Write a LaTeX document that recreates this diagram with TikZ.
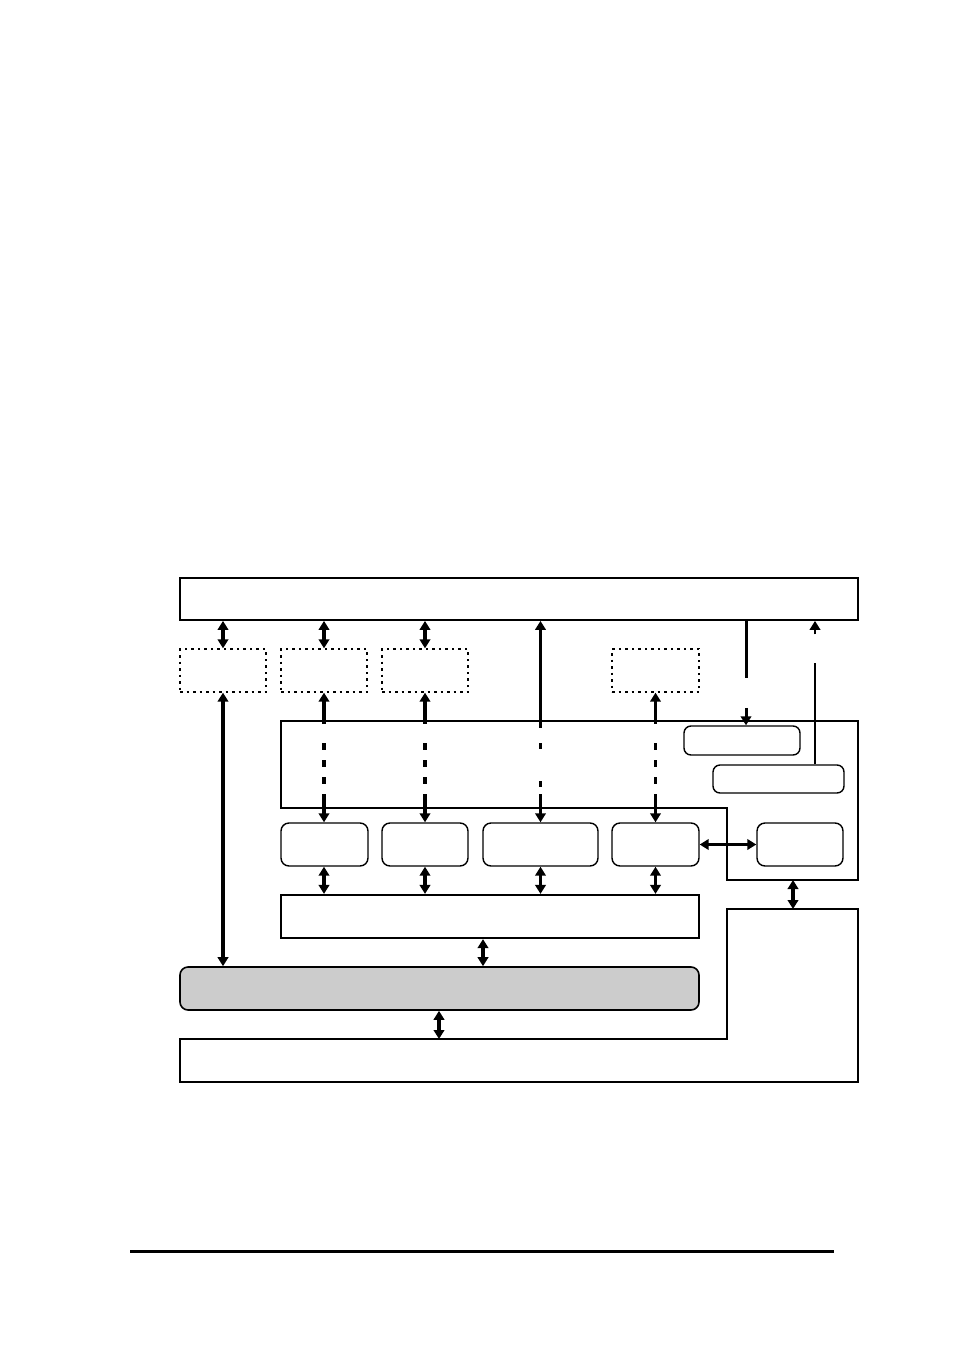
\documentclass[tikz,border=0pt]{standalone}
\usetikzlibrary{arrows.meta,calc}
\begin{document}
\begin{tikzpicture}[x=1pt,y=-1pt,
  box/.style={draw,line width=1.8pt,minimum height=43pt,inner sep=0pt},
  dotbox/.style={draw,line width=1.3pt,dash pattern=on 2.5pt off 4pt,minimum height=43pt,inner sep=0pt},
  rbox/.style={draw,line width=1.4pt,rounded corners=8pt,minimum height=43pt,inner sep=0pt},
  sbox/.style={draw,line width=1.4pt,rounded corners=7pt,inner sep=0pt},
  conn/.style={line width=3.6pt,{Triangle[width=10.5pt,length=9pt]}-{Triangle[width=10.5pt,length=9pt]}},
  oneway/.style={line width=3pt,-{Triangle[width=10.5pt,length=9pt]}}]
\useasboundingbox (0,0) rectangle (954,1351);
% top box
\node[box,minimum width=678pt,minimum height=42pt] (T) at (519,599) {};
% dotted boxes
\node[dotbox,minimum width=86pt] (D1) at (223,670.5) {};
\node[dotbox,minimum width=86pt] (D2) at (324,670.5) {};
\node[dotbox,minimum width=86pt] (D3) at (425,670.5) {};
\node[dotbox,minimum width=87pt] (D4) at (655.5,670.5) {};
% big region
\coordinate (R1) at (281,721);
\coordinate (R2) at (858,721);
\coordinate (R3) at (858,880);
\coordinate (R4) at (727,880);
\coordinate (R5) at (727,808);
\coordinate (R6) at (281,808);
\draw[line width=1.4pt] (R1) -- (R2) -- (R3) -- (R4) -- (R5) -- (R6) -- cycle;
\node[sbox,minimum width=116pt,minimum height=29pt] (A) at (742,740.5) {};
\node[sbox,minimum width=131pt,minimum height=28pt] (B) at (778.5,779) {};
% row of rounded boxes
\node[rbox,minimum width=87pt] (b1) at (324.5,844.5) {};
\node[rbox,minimum width=86pt] (b2) at (425,844.5) {};
\node[rbox,minimum width=115pt] (b3) at (540.5,844.5) {};
\node[rbox,minimum width=87pt] (b4) at (655.5,844.5) {};
\node[rbox,minimum width=86pt] (b5) at (800,844.5) {};
% middle box
\node[box,line width=2.2pt,minimum width=418pt] (M) at (490,916.5) {};
% grey box
\node[rbox,fill=gray!40,line width=1.6pt,minimum width=519pt] (G) at (439.5,988.5) {};
% L-shaped bottom box
\coordinate (L1) at (180,1039);
\coordinate (L2) at (727,1039);
\coordinate (L3) at (727,909);
\coordinate (L4) at (858,909);
\coordinate (L5) at (858,1082);
\coordinate (L6) at (180,1082);
\draw[line width=1.7pt] (L1) -- (L2) -- (L3) -- (L4) -- (L5) -- (L6) -- cycle;
% helper x positions
\coordinate (xA) at (746,0);
\coordinate (xB) at (815,0);
\coordinate (xR) at (793,0);
\coordinate (xM) at (483,0);
\coordinate (xG) at (439,0);
% connectors top <-> dotted
\draw[conn] (T.south -| D1.north) -- (D1.north);
\draw[conn] (T.south -| D2.north) -- (D2.north);
\draw[conn] (T.south -| D3.north) -- (D3.north);
% D1 <-> grey
\draw[conn] (D1.south) -- (D1.south |- G.north);
% dashed crossings
\draw[conn,dash pattern=on 23pt off 19pt on 7pt off 10pt on 7pt off 10pt on 7pt off 10pt on 40pt] (D2.south) -- (D2.south |- b1.north);
\draw[conn,dash pattern=on 23pt off 19pt on 7pt off 10pt on 7pt off 10pt on 7pt off 10pt on 40pt] (D3.south) -- (D3.south |- b2.north);
\draw[conn,dash pattern=on 23pt off 19pt on 7pt off 10pt on 7pt off 10pt on 7pt off 10pt on 40pt] (D4.south) -- (D4.south |- b4.north);
\draw[conn,dash pattern=on 99pt off 15pt on 6pt off 32pt on 6pt off 7pt on 60pt] (b3.north |- T.south) -- (b3.north);
% row <-> middle
\draw[conn] (D2.south |- b1.south) -- (D2.south |- M.north);
\draw[conn] (b2.south) -- (b2.south |- M.north);
\draw[conn] (b3.south) -- (b3.south |- M.north);
\draw[conn] (D4.south |- b4.south) -- (D4.south |- M.north);
% b4 <-> b5
\draw[conn] (b4.east) -- (b5.west);
% region <-> L box
\draw[conn] (xR |- R3) -- (xR |- L4);
% middle <-> grey, grey <-> L
\draw[conn] (xM |- M.south) -- (xM |- G.north);
\draw[conn] (xG |- G.south) -- (xG |- L1);
% top -> A (broken)
\draw[oneway,dash pattern=on 57pt off 30pt on 40pt] (xA |- T.south) -- (xA |- A.north);
% B -> top (broken)
\draw[oneway,line width=2.6pt,dash pattern=on 101pt off 29pt on 30pt] (xB |- B.north) -- (xB |- T.south);
% footer rule
\coordinate (F1) at (130,1251.5);
\coordinate (F2) at (834,1251.5);
\draw[line width=2.4pt] (F1) -- (F2);
\end{tikzpicture}
\end{document}
